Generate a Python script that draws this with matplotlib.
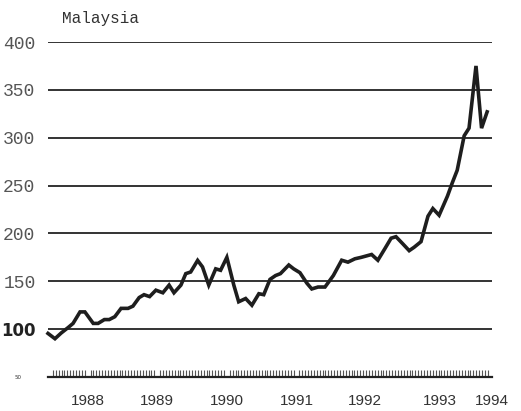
import numpy as np
import matplotlib
matplotlib.use('Agg')
import matplotlib.pyplot as plt

years = [1987.43, 1987.53, 1987.62, 1987.72, 1987.79, 1987.89, 1987.96, 1988.08,
         1988.15, 1988.24, 1988.31, 1988.39, 1988.48, 1988.58, 1988.65, 1988.74,
         1988.81, 1988.89, 1988.98, 1989.08, 1989.17, 1989.24, 1989.34, 1989.41,
         1989.48, 1989.58, 1989.65, 1989.74, 1989.84, 1989.91, 1990.00, 1990.10,
         1990.17, 1990.27, 1990.36, 1990.46, 1990.53, 1990.62, 1990.70, 1990.77,
         1990.89, 1990.96, 1991.05, 1991.15, 1991.22, 1991.31, 1991.41, 1991.53,
         1991.65, 1991.74, 1991.84, 1991.93, 1992.08, 1992.17, 1992.27, 1992.36,
         1992.43, 1992.53, 1992.62, 1992.69, 1992.79, 1992.89, 1992.96, 1993.05,
         1993.17, 1993.24, 1993.31, 1993.41, 1993.48, 1993.58, 1993.66, 1993.74]
values = [95.5, 90, 96, 101.7, 106, 118, 118, 106,
          106, 110, 110, 113, 121.7, 121.7, 124, 133,
          136, 134, 140.7, 138, 146, 138, 146, 158,
          159.7, 171.8, 165, 146, 163, 161.5, 175, 146,
          128.6, 132, 125, 137, 136, 152, 156, 158,
          167, 163, 159, 148, 142, 144, 144, 156,
          172, 170, 173.5, 175, 178, 172, 184, 195,
          196.6, 189, 182, 185.5, 191.4, 218, 226, 219,
          239, 253, 266, 302, 310, 375, 310, 327]

grid_levels = [100, 150, 200, 250, 300, 350, 400]
ytick_labels = ['100', '150', '200', '250', '300', '350', '400']
xtick_pos = [1988.0, 1989.0, 1990.0, 1991.0, 1991.99, 1993.06, 1993.81]
xtick_labels = ['1988', '1989', '1990', '1991', '1992', '1993', '1994']

fig = plt.figure(figsize=(5.21, 4.11), dpi=100)
ax = fig.add_axes([48/521, 34/411, 444/521, 335/411])

for lv in grid_levels:
    ax.axhline(lv, color='#333333', lw=1.4, zorder=1)

ax.plot(years, values, color='#1e1e1e', lw=2.6, solid_joinstyle='miter', zorder=3, clip_on=False)

ax.set_xlim(1987.43, 1993.77)
ax.set_ylim(50, 400)

for s in ['top', 'right', 'left']:
    ax.spines[s].set_visible(False)
ax.spines['bottom'].set_color('#222222')
ax.spines['bottom'].set_linewidth(1.6)

ax.set_yticks(grid_levels)
ax.set_yticklabels(ytick_labels)
ax.tick_params(axis='y', length=0, pad=9)
for t in ax.get_yticklabels():
    if t.get_text() == '100':
        t.set_fontfamily('DejaVu Sans')
        t.set_fontweight('bold')
        t.set_fontsize(12)
        t.set_color('#222222')
    else:
        t.set_fontfamily('Liberation Mono')
        t.set_fontsize(13)
        t.set_color('#555555')

ax.set_xticks(xtick_pos)
ax.set_xticklabels(xtick_labels, fontfamily='Liberation Sans', fontsize=11, color='#333333')
ax.set_xticks(np.arange(1987.5, 1993.76, 1/24), minor=True)
ax.tick_params(axis='x', which='major', length=0, pad=12)
ax.tick_params(axis='x', which='minor', direction='in', length=5, width=0.8, color='#555555')

ax.text(-0.075, 0.0, '50', transform=ax.transAxes, fontsize=4, color='#333333',
        ha='left', va='center')

fig.text(62/521, 1 - 18/411, 'Malaysia', fontfamily='Liberation Mono', fontsize=11.5,
         color='#333333', ha='left', va='center')

fig.savefig('out.png', dpi=100)
